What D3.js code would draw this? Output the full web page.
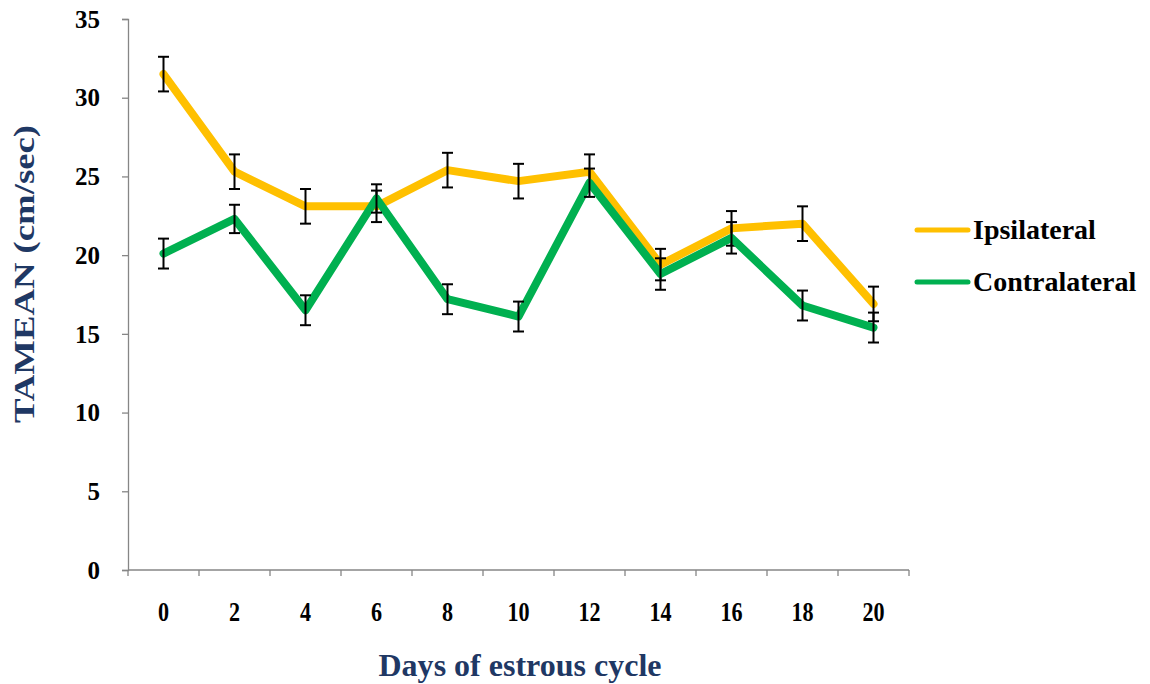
<!DOCTYPE html>
<html><head><meta charset="utf-8">
<script src="https://cdn.jsdelivr.net/npm/d3@7"></script>
<style>
html,body{margin:0;padding:0;background:#fff;}
svg{display:block;}
text{font-family:"Liberation Serif","Times New Roman",serif;font-weight:bold;}
</style></head>
<body>
<svg id="chart" width="1150" height="684"></svg>
<script>
const days = [0, 2, 4, 6, 8, 10, 12, 14, 16, 18, 20];
const ipsilateral = [31.5, 25.3, 23.1, 23.1, 25.4, 24.7, 25.3, 19.4, 21.7, 22.0, 16.9];
const ipsilateralErr = [1.1, 1.1, 1.1, 1.0, 1.1, 1.1, 1.1, 1.0, 1.1, 1.1, 1.1];
const contralateral = [20.1, 22.3, 16.5, 23.6, 17.2, 16.1, 24.6, 18.8, 21.1, 16.8, 15.4];
const contralateralErr = [0.95, 0.9, 0.95, 0.9, 0.95, 0.95, 0.9, 1.0, 1.0, 0.95, 0.95];
const yTicks = [0, 5, 10, 15, 20, 25, 30, 35];
const seriesNames = ["Ipsilateral", "Contralateral"];
const seriesColors = ["#FFC000", "#00B050"];

const svg = d3.select("#chart");
const x = d3.scaleBand().domain(days).range([128, 909]).padding(0);
const y = d3.scaleLinear().domain([0, 35]).range([570, 19]);
const axisColor = "#868686";

// Y axis
const yAxis = svg.append("g").attr("transform", "translate(128,0)")
  .call(d3.axisLeft(y).tickValues(yTicks).tickSize(6).tickPadding(22).tickFormat(d3.format("d")));
yAxis.select(".domain").attr("stroke", axisColor).attr("stroke-width", 1.3);
yAxis.selectAll(".tick line").attr("stroke", axisColor).attr("stroke-width", 1.3);
yAxis.selectAll(".tick text").attr("fill", "#000").style("font-size", "25px").attr("dy", "0.33em");

// X axis
const xAxis = svg.append("g").attr("transform", "translate(0,570)");
xAxis.append("line").attr("x1", 128).attr("x2", 909).attr("y1", 0).attr("y2", 0)
  .attr("stroke", axisColor).attr("stroke-width", 1.3);
const boundaries = days.map(d => x(d)).concat([x(days[days.length - 1]) + x.bandwidth()]);
xAxis.selectAll("line.tk").data(boundaries).enter().append("line").attr("class", "tk")
  .attr("x1", d => d).attr("x2", d => d).attr("y1", 0).attr("y2", 6)
  .attr("stroke", axisColor).attr("stroke-width", 1.3);
xAxis.selectAll("text.lbl").data(days).enter().append("text").attr("class", "lbl")
  .attr("transform", d => `translate(${x(d) + x.bandwidth() / 2},51) scale(0.82,1)`)
  .attr("text-anchor", "middle").style("font-size", "27px").attr("fill", "#000").text(d => d);

// Titles
svg.append("text").attr("x", 520).attr("y", 676).attr("text-anchor", "middle")
  .style("font-size", "32px").attr("fill", "#1F3864")
  .attr("textLength", 283).attr("lengthAdjust", "spacingAndGlyphs")
  .text("Days of estrous cycle");
svg.append("text").attr("transform", "translate(34,274) rotate(-90)").attr("text-anchor", "middle")
  .style("font-size", "29px").attr("fill", "#1F3864")
  .attr("textLength", 298).attr("lengthAdjust", "spacingAndGlyphs")
  .text("TAMEAN (cm/sec)");

// Series
const seriesData = [
  { vals: ipsilateral, errs: ipsilateralErr },
  { vals: contralateral, errs: contralateralErr }
];
const line = d3.line().x((d, i) => x(days[i]) + x.bandwidth() / 2).y(d => y(d));
seriesData.forEach((s, si) => {
  svg.append("path").datum(s.vals).attr("d", line).attr("fill", "none")
    .attr("stroke", seriesColors[si]).attr("stroke-width", 8)
    .attr("stroke-linejoin", "round").attr("stroke-linecap", "round");
  const g = svg.append("g").attr("stroke", "#000").attr("stroke-width", 2);
  s.vals.forEach((v, i) => {
    const cx = x(days[i]) + x.bandwidth() / 2;
    const top = y(v + s.errs[i]), bot = y(v - s.errs[i]);
    g.append("line").attr("x1", cx).attr("x2", cx).attr("y1", top).attr("y2", bot);
    g.append("line").attr("x1", cx - 5.5).attr("x2", cx + 5.5).attr("y1", top).attr("y2", top);
    g.append("line").attr("x1", cx - 5.5).attr("x2", cx + 5.5).attr("y1", bot).attr("y2", bot);
  });
});

// Legend
const legendY = [230, 282];
seriesNames.forEach((n, i) => {
  svg.append("line").attr("x1", 917).attr("x2", 968).attr("y1", legendY[i]).attr("y2", legendY[i])
    .attr("stroke", seriesColors[i]).attr("stroke-width", 5).attr("stroke-linecap", "round");
  svg.append("text").attr("x", 973).attr("y", legendY[i] + 9).style("font-size", "28px")
    .attr("fill", "#000").text(n);
});
</script>
</body></html>
